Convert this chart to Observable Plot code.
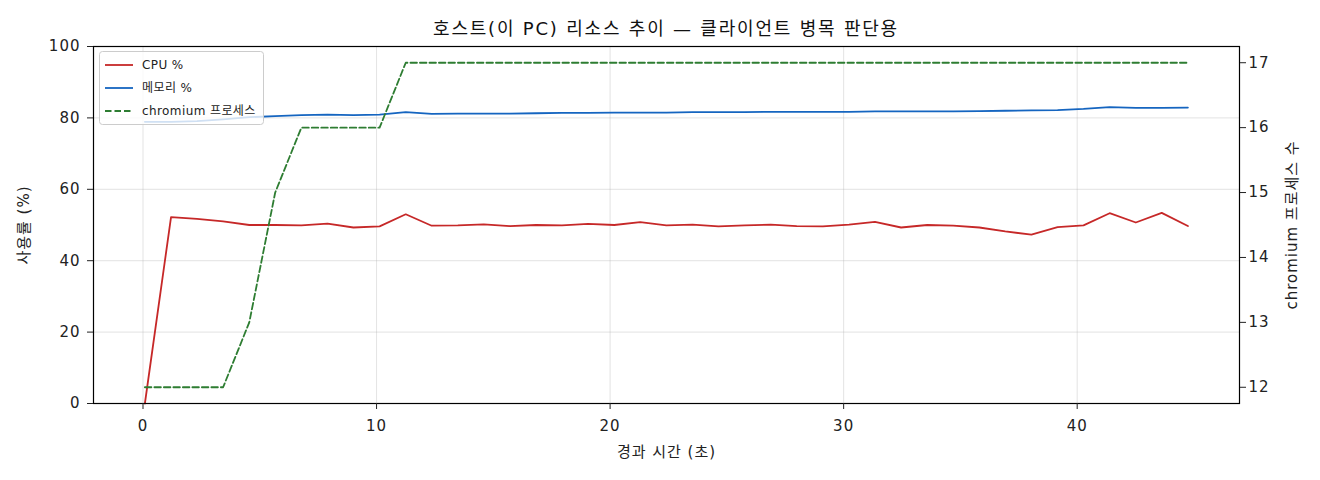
<!DOCTYPE html>
<html>
<head>
<meta charset="utf-8">
<script src="https://cdn.jsdelivr.net/npm/d3@7"></script>
<script src="https://cdn.jsdelivr.net/npm/@observablehq/plot@0.6"></script>
<style>
  html, body { margin: 0; padding: 0; background: #fff; }
  #chart { width: 1320px; height: 480px; }
</style>
</head>
<body>
<div id="chart"></div>
<script>
// ---- data ----
const times = [0.08, 1.20, 2.31, 3.43, 4.55, 5.66, 6.78, 7.90, 9.01, 10.13,
  11.25, 12.36, 13.48, 14.59, 15.71, 16.83, 17.94, 19.06, 20.18, 21.29,
  22.41, 23.53, 24.64, 25.76, 26.88, 27.99, 29.11, 30.23, 31.34, 32.46,
  33.58, 34.69, 35.81, 36.92, 38.04, 39.16, 40.27, 41.39, 42.51, 43.62, 44.74];
const cpuPct = [0, 52.2, 51.7, 51.0, 50.0, 50.0, 49.9, 50.4, 49.3, 49.6,
  53.0, 49.8, 49.9, 50.2, 49.7, 50.0, 49.9, 50.3, 50.0, 50.8,
  49.9, 50.1, 49.6, 49.9, 50.1, 49.7, 49.6, 50.1, 50.9, 49.3,
  50.0, 49.8, 49.3, 48.2, 47.3, 49.4, 49.9, 53.3, 50.7, 53.4, 49.7];
const memPct = [78.9, 78.9, 79.1, 79.6, 80.2, 80.5, 80.8, 80.9, 80.8, 80.9,
  81.6, 81.1, 81.2, 81.2, 81.2, 81.3, 81.4, 81.4, 81.5, 81.5,
  81.5, 81.6, 81.6, 81.6, 81.7, 81.7, 81.7, 81.7, 81.8, 81.8,
  81.8, 81.8, 81.9, 82.0, 82.1, 82.2, 82.5, 83.0, 82.8, 82.8, 82.9];
const chromiumProcs = [12, 12, 12, 12, 13, 15, 16, 16, 16, 16,
  17, 17, 17, 17, 17, 17, 17, 17, 17, 17,
  17, 17, 17, 17, 17, 17, 17, 17, 17, 17,
  17, 17, 17, 17, 17, 17, 17, 17, 17, 17, 17];
const xTicks = [0, 10, 20, 30, 40];
const yTicks = [0, 20, 40, 60, 80, 100];
const procTicks = [12, 13, 14, 15, 16, 17];
const seriesNames = ["CPU %", "메모리 %", "chromium 프로세스"];
const titleText = "호스트(이 PC) 리소스 추이 — 클라이언트 병목 판단용";
const xLabel = "경과 시간 (초)";
const yLabel = "사용률 (%)";
const y2Label = "chromium 프로세스 수";

// ---- twin-axis mapping (right axis domain 11.75..17.25 onto left 0..100) ----
const P0 = 11.75, P1 = 17.25;
const toLeft = p => (p - P0) / (P1 - P0) * 100;
const fromLeft = v => Math.round(v / 100 * (P1 - P0) + P0);

const rows = times.map((t, i) => ({t, cpu: cpuPct[i], mem: memPct[i], proc: chromiumProcs[i]}));

const FONT = "'DejaVu Sans', 'Noto Sans CJK KR', sans-serif";
const RED = "#c62828", BLUE = "#1565c0", GREEN = "#2e7d32";
const DASH = "6.5,3";

const chart = Plot.plot({
  width: 1320,
  height: 480,
  marginTop: 46,
  marginBottom: 77,
  marginLeft: 93,
  marginRight: 81,
  style: {fontFamily: FONT, fontSize: "15px", color: "#222", background: "#fff", letterSpacing: "1px"},
  x: {domain: [-2.12, 46.95]},
  y: {domain: [0, 100]},
  marks: [
    Plot.gridX(xTicks, {stroke: "#b0b0b0", strokeOpacity: 0.35}),
    Plot.gridY(yTicks, {stroke: "#b0b0b0", strokeOpacity: 0.35}),
    Plot.lineY(rows, {x: "t", y: "cpu", stroke: RED, strokeWidth: 1.8}),
    Plot.lineY(rows, {x: "t", y: "mem", stroke: BLUE, strokeWidth: 1.8}),
    Plot.lineY(rows, {x: "t", y: d => toLeft(d.proc), stroke: GREEN, strokeWidth: 1.8, strokeDasharray: DASH}),
    Plot.frame({stroke: "#000", strokeWidth: 1.2}),
    Plot.axisX(xTicks, {tickSize: 6, tickPadding: 11, fontSize: 15,
      label: xLabel, labelAnchor: "center", labelArrow: "none", labelOffset: 53}),
    Plot.axisY(yTicks, {anchor: "left", tickSize: 6, tickPadding: 7, fontSize: 15,
      label: yLabel, labelAnchor: "center", labelArrow: "none", labelOffset: 75}),
    Plot.axisY(procTicks.map(toLeft), {anchor: "right", tickSize: 6, tickPadding: 3, fontSize: 15,
      tickFormat: d => fromLeft(d),
      label: y2Label, labelAnchor: "center", labelArrow: "none", labelOffset: 57})
  ]
});

document.getElementById("chart").appendChild(chart);

// ---- title and legend overlay ----
const svg = d3.select(chart);
svg.append("text")
  .attr("x", 666).attr("y", 35)
  .attr("text-anchor", "middle")
  .attr("font-family", FONT)
  .attr("font-size", 18)
  .style("letter-spacing", "1.8px")
  .attr("fill", "#111")
  .text(titleText);

const lg = svg.append("g");
lg.append("rect")
  .attr("x", 99.5).attr("y", 51.5).attr("width", 164).attr("height", 73)
  .attr("rx", 3).attr("fill", "#fff").attr("fill-opacity", 0.8)
  .attr("stroke", "#ccc").attr("stroke-width", 1);
const legendItems = [
  {name: seriesNames[0], color: RED, dash: null},
  {name: seriesNames[1], color: BLUE, dash: null},
  {name: seriesNames[2], color: GREEN, dash: DASH}
];
legendItems.forEach((it, i) => {
  const y = 65 + i * 23;
  lg.append("line")
    .attr("x1", 105).attr("x2", 133).attr("y1", y).attr("y2", y)
    .attr("stroke", it.color).attr("stroke-width", 1.8)
    .attr("stroke-dasharray", it.dash);
  lg.append("text")
    .attr("x", 142).attr("y", y).attr("dy", "0.35em")
    .attr("text-anchor", "start")
    .attr("font-family", FONT).attr("font-size", 12).attr("fill", "#222")
    .style("letter-spacing", "0.4px")
    .text(it.name);
});
</script>
</body>
</html>
